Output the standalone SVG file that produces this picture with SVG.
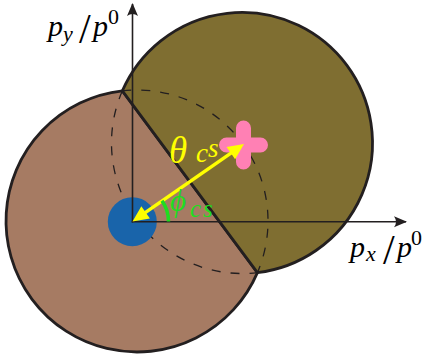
<svg xmlns="http://www.w3.org/2000/svg" width="425" height="360" viewBox="0 0 425 360">
  <style>
    .outline { stroke: #231F20; stroke-width: 2.8; stroke-linejoin: round; }
    .dash { fill: none; stroke: #231F20; stroke-width: 1.3; stroke-dasharray: 9 10; }
    .axis { fill: none; stroke: #231F20; stroke-width: 1.6; }
    .head { fill: #231F20; stroke: none; }
    .math { font-family: "Liberation Serif", "DejaVu Serif", serif; font-style: italic; fill: #000; }
    .up { font-style: normal; }
  </style>
  <defs>
    <marker id="axhead" markerUnits="userSpaceOnUse" markerWidth="16" markerHeight="14" viewBox="-14 -7 16 14" refX="0" refY="0" orient="auto">
      <path d="M1,0 L-12,-5.5 Q-8,0 -12,5.5 Z" class="head"/>
    </marker>
  </defs>

  <g id="brown-region">
    <path class="outline" fill="#A67B63" d="M122.38,90.81 A131,131 0 1 0 257.42,272.59 Z"/>
  </g>
  <g id="olive-region">
    <path class="outline" fill="#7F6E31" d="M122.38,90.81 A130.5,130.5 0 1 1 257.42,272.59 Z"/>
  </g>
  <g id="hidden-arcs">
    <path class="dash" d="M122.38,90.81 A131,131 0 0 1 257.42,272.59"/>
    <path class="dash" d="M122.38,90.81 A130.5,130.5 0 0 0 257.42,272.59"/>
  </g>
  <g id="origin-dot">
    <circle cx="132.3" cy="221.7" r="24.5" fill="#1964AA"/>
  </g>
  <g id="cross">
    <path d="M226.5,145 H260.5 M243.5,128 V162" stroke="#FF80B4" stroke-width="15" stroke-linecap="round" fill="none"/>
  </g>

  <g id="connectors">
    <line class="axis" x1="132.5" y1="222.5" x2="132.5" y2="4" marker-end="url(#axhead)"/>
    <line class="axis" x1="131.7" y1="221.7" x2="406" y2="221.7" marker-end="url(#axhead)"/>
    <g id="vector-arrow" fill="#FFFF00">
      <line x1="139.07" y1="216.93" x2="237.43" y2="148.57" stroke="#FFFF00" stroke-width="3.5"/>
      <polygon points="244,144 235.14,159.29 226.58,146.97"/>
      <polygon points="132.5,221.5 149.92,218.53 141.36,206.21"/>
    </g>
    <path id="phi-arc" d="M168.5,221.5 A36,36 0 0 0 161.99,200.85" fill="none" stroke="#1FDD1F" stroke-width="3.5"/>
  </g>

  <g id="labels">
    <text class="math" font-size="30"><tspan x="48" y="36">p</tspan><tspan x="63" y="41" font-size="22">y</tspan><tspan class="up" x="79" y="43" font-size="42">/</tspan><tspan x="93" y="36">p</tspan><tspan class="up" x="108" y="24" font-size="22">0</tspan></text>
    <text class="math" font-size="30"><tspan x="350" y="257">p</tspan><tspan x="366" y="261" font-size="22">x</tspan><tspan class="up" x="383" y="264" font-size="42">/</tspan><tspan x="397" y="257">p</tspan><tspan class="up" x="411" y="245" font-size="22">0</tspan></text>
    <text class="math" style="fill:#FFFF00"><tspan x="169" y="163" font-size="37">θ</tspan><tspan x="196" y="162" font-size="27">c</tspan><tspan x="208" y="157" font-size="27">s</tspan></text>
    <text class="math" style="fill:#1FDD1F"><tspan x="170" y="211" font-size="31">ϕ</tspan><tspan x="190" y="216.5" font-size="25">c</tspan><tspan x="203" y="216.5" font-size="25">s</tspan></text>
  </g>
</svg>
